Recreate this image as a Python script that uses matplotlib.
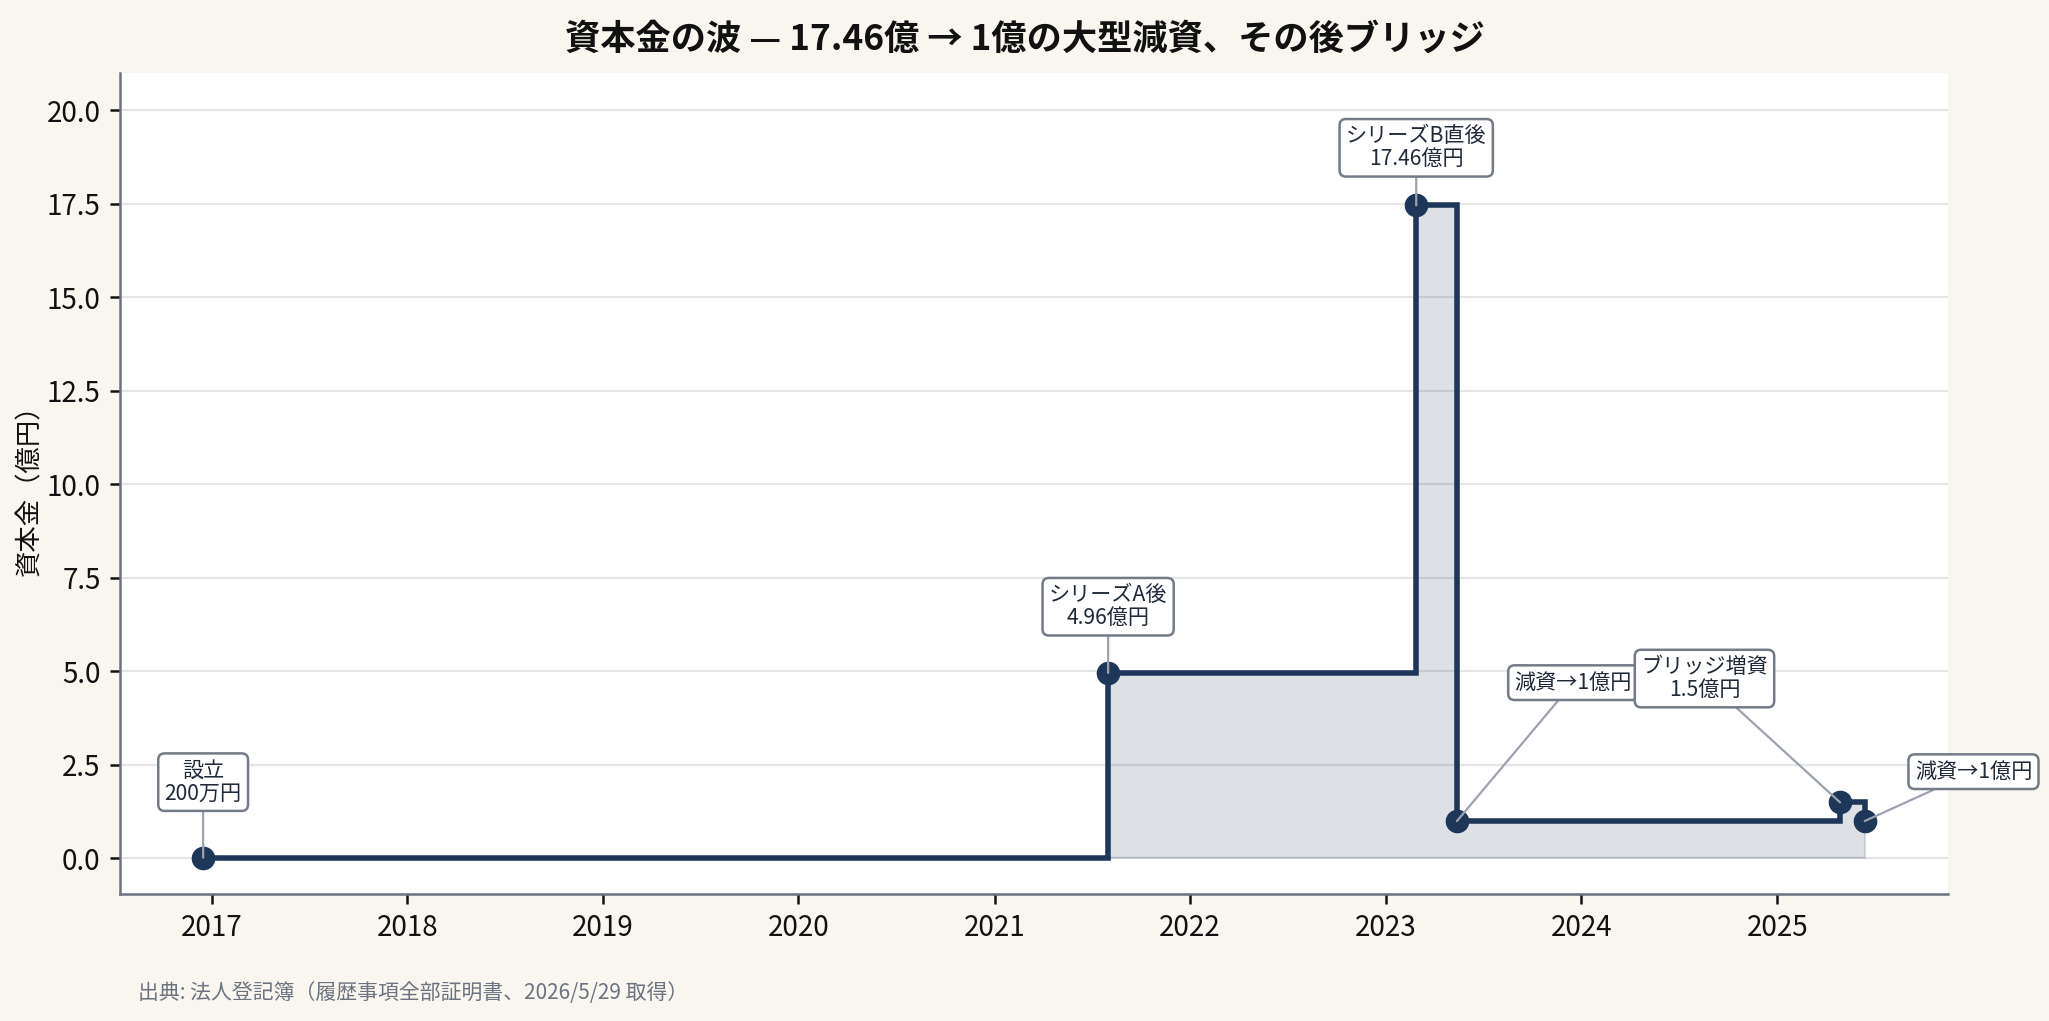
import matplotlib
matplotlib.use("Agg")
import matplotlib.pyplot as plt
import matplotlib.dates as mdates
from matplotlib.ticker import MultipleLocator, FormatStrFormatter
import pandas as pd

plt.rcParams['font.family'] = ['Noto Sans CJK JP', 'DejaVu Sans']

# ---- data ----
dates = ["2016-12-16", "2021-08-01", "2023-02-27", "2023-05-14", "2025-04-28", "2025-06-13"]
capital_oku = [0.02, 4.96, 17.46, 1.0, 1.5, 1.0]
labels = ["設立\n200万円", "シリーズA後\n4.96億円", "シリーズB直後\n17.46億円",
          "減資→1億円", "ブリッジ増資\n1.5億円", "減資→1億円"]
label_dates = ["2016-12-16", "2021-08-01", "2023-02-27", "2023-12-17", "2024-08-18", "2026-01-02"]
label_values = [2.04, 6.73, 19.0, 4.70, 4.81, 2.32]

title = "資本金の波 — 17.46億 → 1億の大型減資、その後ブリッジ"
ylabel = "資本金（億円）"
source = "出典: 法人登記簿（履歴事項全部証明書、2026/5/29 取得）"

x = pd.to_datetime(dates)
lx = pd.to_datetime(label_dates)

navy = "#1e3658"
bg = "#f9f6ef"

fig = plt.figure(figsize=(10.245, 5.105), dpi=200, facecolor=bg)
ax = fig.add_axes([0.0586, 0.1244, 0.892, 0.8041])
ax.set_facecolor("white")

ax.fill_between(x, capital_oku, 0, step="post", color=navy, alpha=0.15, lw=0.8, zorder=1)
ax.step(x, capital_oku, where="post", color=navy, lw=2.0, zorder=2, solid_joinstyle="miter")
ax.plot(x, capital_oku, "o", color=navy, ms=7.5, zorder=2.5)

for xi, yi, t, tx, ty in zip(x, capital_oku, labels, lx, label_values):
    ax.annotate(t, xy=(xi, yi), xytext=(tx, ty), textcoords="data",
                ha="center", va="center", fontsize=7.6, color="#1f2937",
                linespacing=1.05,
                bbox=dict(boxstyle="round,pad=0.3", fc="white", ec="#737b87", lw=0.9),
                arrowprops=dict(arrowstyle="-", color="#9ca3af", lw=0.8, shrinkA=0, shrinkB=0),
                zorder=4)

ax.set_ylim(-0.95, 21.0)
ax.yaxis.set_major_locator(MultipleLocator(2.5))
ax.yaxis.set_major_formatter(FormatStrFormatter("%.1f"))
ax.xaxis.set_major_locator(mdates.YearLocator())
ax.xaxis.set_major_formatter(mdates.DateFormatter("%Y"))

ax.grid(axis="y", color="#e5e5e5", lw=0.8, zorder=0)
ax.set_axisbelow(True)
for s in ["top", "right"]:
    ax.spines[s].set_visible(False)
for s in ["left", "bottom"]:
    ax.spines[s].set_color("#6b7280")
    ax.spines[s].set_linewidth(0.9)
ax.tick_params(axis="both", labelsize=10, colors="#111111", length=3.5, width=0.9)
ax.set_ylabel(ylabel, fontsize=9.5, color="#111111")
ax.yaxis.set_label_coords(-0.042, 0.5)

fig.text(0.5, 0.962, title, ha="center", va="center", fontsize=12.7, fontweight="bold", color="#111111")
fig.text(0.0675, 0.027, source, ha="left", va="center", fontsize=7.5, color="#6b7280")

fig.savefig("out.png", dpi=200, facecolor=bg)
